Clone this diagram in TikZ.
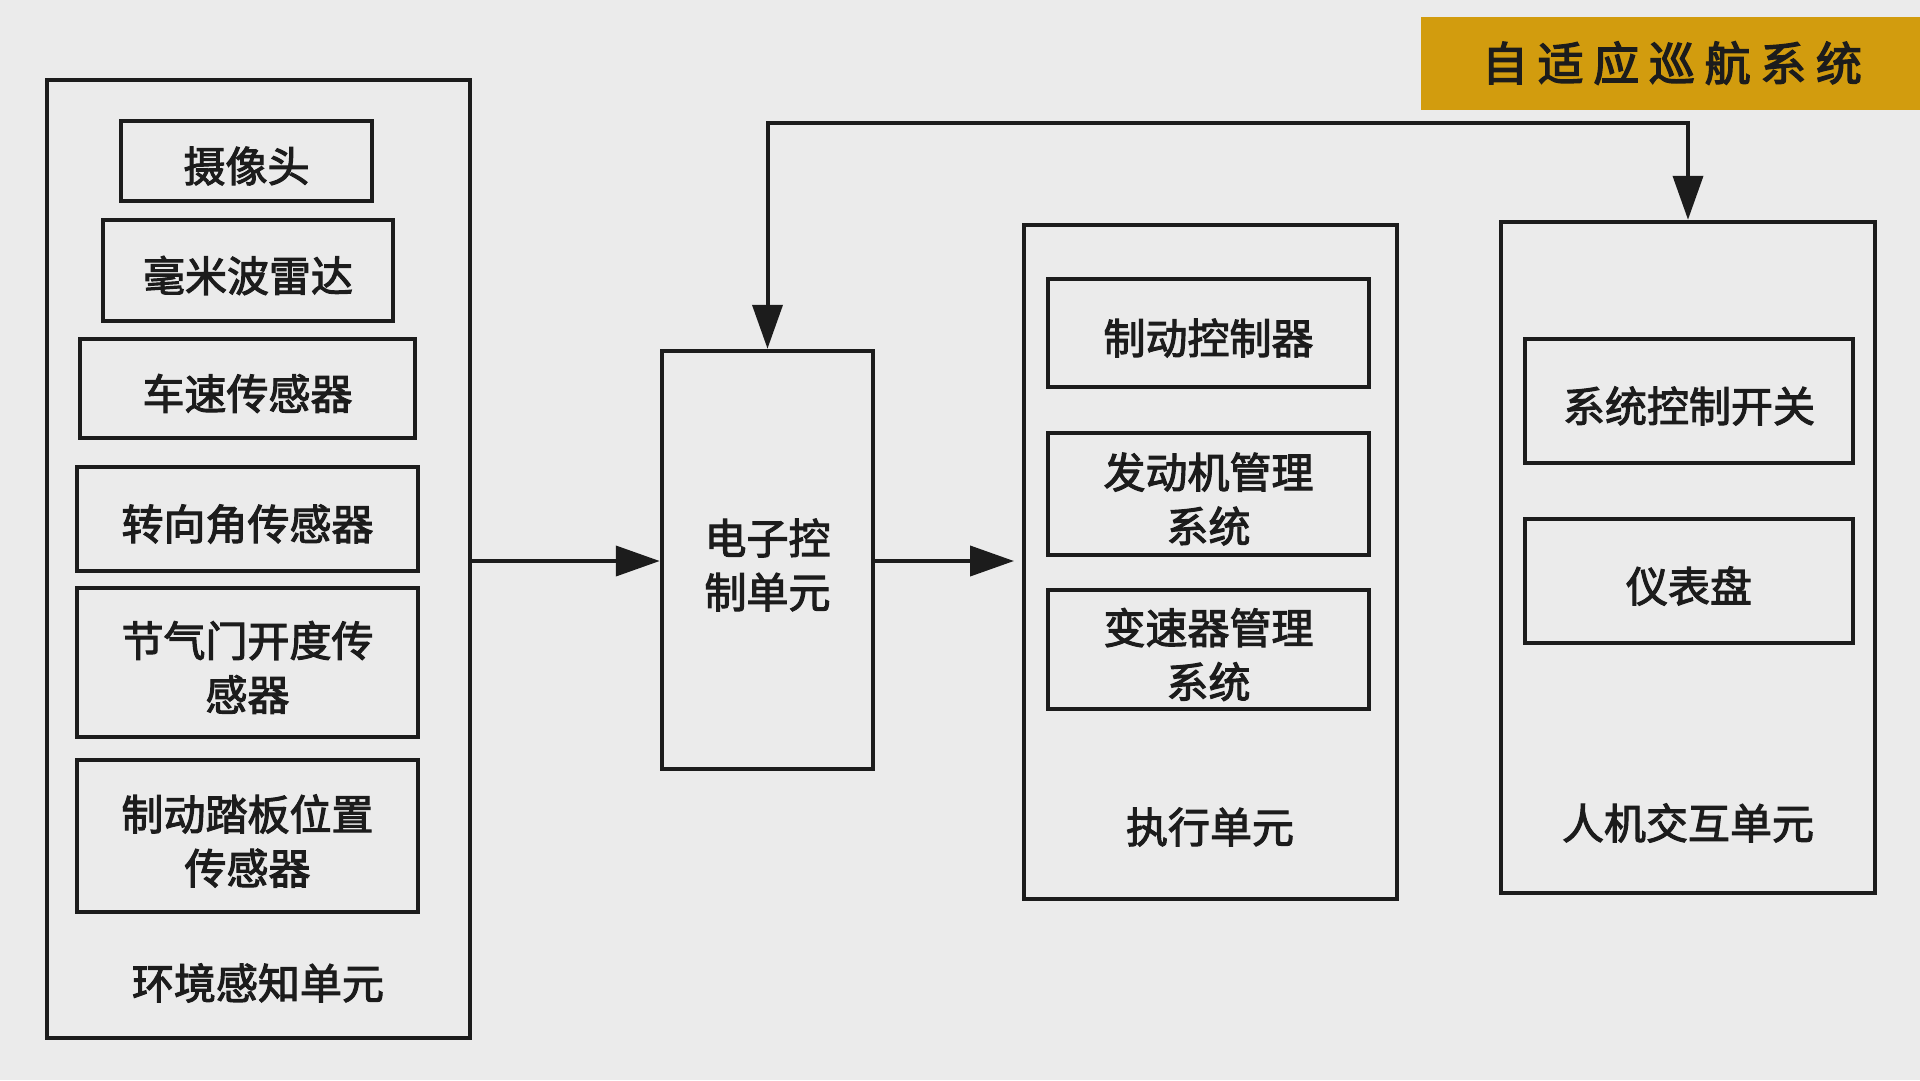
\documentclass[tikz,border=0pt]{standalone}
\usepackage{fontspec}
\setmainfont{Noto Sans CJK SC}[FakeBold=2.5]
\newfontfamily\titlefont{Noto Sans CJK SC}[FakeBold=3,LetterSpace=21]
\usetikzlibrary{arrows.meta}
\definecolor{bgc}{HTML}{EBEBEB}
\definecolor{gold}{HTML}{D29C0E}
\definecolor{ink}{HTML}{1C1C1C}
\begin{document}
\begin{tikzpicture}[x=1pt,y=-1pt,
  frame/.style={draw=ink, line width=4.5pt, inner sep=0pt},
  txt/.style={inner sep=0pt, align=center, text=ink, yshift=-5pt,
    font=\fontsize{42}{54}\selectfont},
  lab/.style={inner sep=0pt, text=ink, font=\fontsize{42}{54}\selectfont},
  arr/.style={draw=ink, line width=4pt, -{Triangle[length=44pt,width=30pt]}},
  darr/.style={draw=ink, line width=4pt, {Triangle[length=44pt,width=30pt]}-{Triangle[length=44pt,width=30pt]}}]
\fill[bgc] (0,0) rectangle (1920,1080);
\useasboundingbox (0,0) rectangle (1920,1080);
% title
\fill[gold] (1421,17) rectangle (1920,110);
\node[inner sep=0pt, text=ink, font=\titlefont\fontsize{46}{50}\selectfont] (title) at (1672,63) {自适应巡航系统};
% environment perception unit
\node[frame, minimum width=423pt, minimum height=958pt] (env) at (258.5,559) {};
\node[frame, minimum width=251pt, minimum height=80pt, label={[txt]center:摄像头}] (cam) at (246.5,161) {};
\node[frame, minimum width=290pt, minimum height=101pt, label={[txt]center:毫米波雷达}] (radar) at (248,270.5) {};
\node[frame, minimum width=335pt, minimum height=99pt, label={[txt]center:车速传感器}] (speed) at (247.5,388.5) {};
\node[frame, minimum width=341pt, minimum height=104pt, label={[txt]center:转向角传感器}] (steer) at (247.5,519) {};
\node[frame, minimum width=341pt, minimum height=149pt, label={[txt]center:{节气门开度传\\感器}}] (throttle) at (247.5,662.5) {};
\node[frame, minimum width=341pt, minimum height=152pt, label={[txt]center:{制动踏板位置\\传感器}}] (pedal) at (247.5,836) {};
\node[lab] (envlab) at (258,983) {环境感知单元};
% ECU
\node[frame, minimum width=211pt, minimum height=418pt, label={[txt]center:{电子控\\制单元}}] (ecu) at (767.5,560) {};
% execution unit
\node[frame, minimum width=373pt, minimum height=674pt] (exec) at (1210.5,562) {};
\node[frame, minimum width=321pt, minimum height=108pt, label={[txt]center:制动控制器}] (brake) at (1208.5,333) {};
\node[frame, minimum width=321pt, minimum height=122pt, label={[txt]center:{发动机管理\\系统}}] (engine) at (1208.5,494) {};
\node[frame, minimum width=321pt, minimum height=119pt, label={[txt]center:{变速器管理\\系统}}] (trans) at (1208.5,649.5) {};
\node[lab] (execlab) at (1210,827) {执行单元};
% HMI
\node[frame, minimum width=374pt, minimum height=671pt] (hmi) at (1688,557.5) {};
\node[frame, minimum width=328pt, minimum height=124pt, label={[txt]center:系统控制开关}] (switch) at (1689,401) {};
\node[frame, minimum width=328pt, minimum height=124pt, label={[txt]center:仪表盘}] (dash) at (1689,581) {};
\node[lab] (hmilab) at (1688,823) {人机交互单元};
% connectors
\coordinate (a1) at (env.east |- 0,561);
\coordinate (a2) at (ecu.west |- 0,561);
\draw[arr] (a1) -- (a2);
\coordinate (b1) at (ecu.east |- 0,561);
\coordinate (b2) at (1014,561);
\draw[arr] (b1) -- (b2);
\coordinate (topy) at (0,123);
\draw[darr] (ecu.north) -- (ecu.north |- topy) -| (hmi.north);
\end{tikzpicture}
\end{document}
